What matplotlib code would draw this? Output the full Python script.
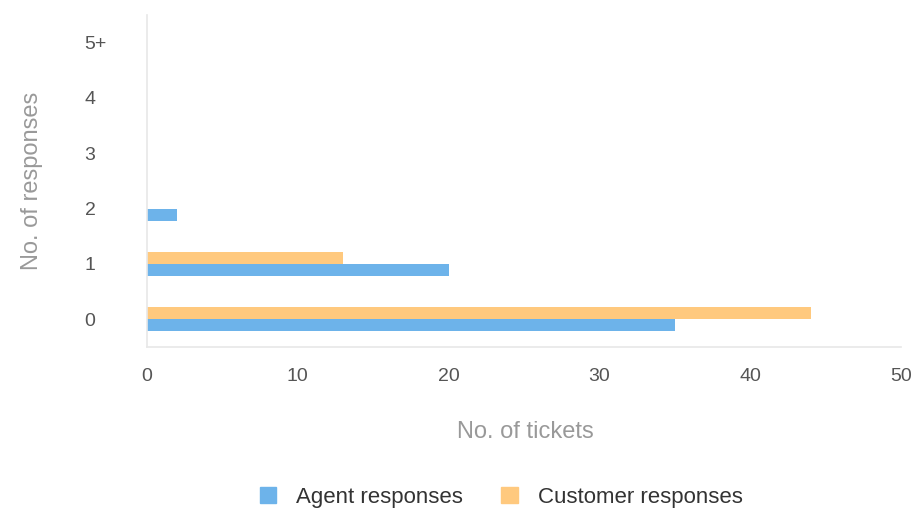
import matplotlib
matplotlib.use('Agg')
import matplotlib.pyplot as plt
from matplotlib.patches import Patch
import numpy as np

plt.rcParams['font.family'] = ['Liberation Sans', 'DejaVu Sans']

categorias = ['0', '1', '2', '3', '4', '5+']
agente = [35, 20, 2, 0, 0, 0]
cliente = [44, 13, 0, 0, 0, 0]
ticks_x = [0, 10, 20, 30, 40, 50]

cor_agente = '#6db3ea'
cor_cliente = '#ffc97e'

W, H = 921, 509
fig = plt.figure(figsize=(W / 100, H / 100), dpi=100)
ax = fig.add_axes([147 / W, 1 - 347 / H, 754 / W, 332 / H])

y = np.arange(len(categorias))
altura = 0.215
ax.barh(y - altura / 2, agente, height=altura, color=cor_agente)
ax.barh(y + altura / 2, cliente, height=altura, color=cor_cliente)

ax.set_xlim(0, 50)
ax.set_ylim(-0.5, 5.5)
ax.set_xticks(ticks_x)
ax.set_yticks(y)
ax.set_yticklabels(categorias)

for lado in ['top', 'right']:
    ax.spines[lado].set_visible(False)
for lado in ['left', 'bottom']:
    ax.spines[lado].set_color('#e8e8e8')
    ax.spines[lado].set_linewidth(1.2)

ax.tick_params(axis='both', length=0, labelsize=14, labelcolor='#555555')
ax.tick_params(axis='x', pad=15)
ax.tick_params(axis='y', pad=45)
for lbl in ax.get_yticklabels():
    lbl.set_ha('left')

fig.text(525 / W, 1 - 432 / H, 'No. of tickets', ha='center', va='center',
         fontsize=17, color='#999999')
fig.text(32 / W, 1 - 181 / H, 'No. of responses', ha='center', va='center',
         rotation=90, fontsize=17, color='#999999')

handles = [Patch(color=cor_agente, label='Agent responses'),
           Patch(color=cor_cliente, label='Customer responses')]
fig.legend(handles=handles, loc='center', bbox_to_anchor=(501 / W, 1 - 497 / H),
           ncol=2, frameon=False, fontsize=16, labelcolor='#333333',
           handlelength=0.75, handleheight=0.75, handletextpad=0.9,
           columnspacing=1.7)

fig.savefig('out.png', dpi=100)
